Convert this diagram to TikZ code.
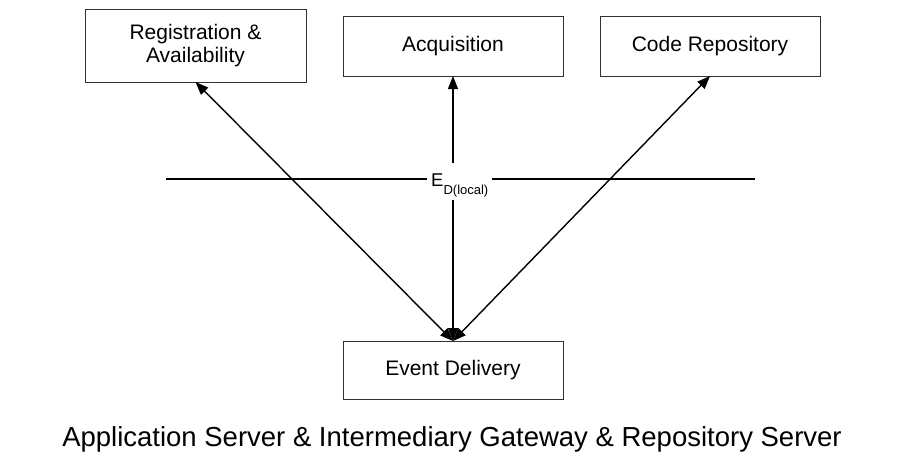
\documentclass[tikz,border=0pt]{standalone}
\usepackage{fontspec}
\setmainfont{Liberation Sans}
\usetikzlibrary{arrows.meta}
\begin{document}
\begin{tikzpicture}[x=1pt,y=-1pt,
  compbox/.style={draw=black!80, line width=0.9pt, inner sep=0pt, outer sep=0pt,
    align=center, font=\fontsize{21}{23}\selectfont},
  link/.style={line width=1.4pt,
    {Triangle[length=13pt,width=10pt]}-{Triangle[length=13pt,width=10pt]}},
  divider/.style={line width=1.5pt},
]
\useasboundingbox (0,0) rectangle (901,459);

% components
\node[compbox, minimum width=221pt, minimum height=73pt] (reg) at (195.5,45.5)
  {Registration \&\\Availability};
\node[compbox, minimum width=220pt, minimum height=60pt] (acq) at (453,46)
  {Acquisition};
\node[compbox, minimum width=220pt, minimum height=60pt] (code) at (710,46)
  {Code Repository};
\node[compbox, minimum width=220pt, minimum height=58pt] (ed) at (453,370)
  {Event Delivery};

% two-way links from event delivery
\draw[link] (ed.north) -- (reg.south);
\draw[link] (ed.north) -- (acq.south);
\draw[link] (ed.north) -- (code.south);

% local boundary line
\coordinate (hl) at (166,179);
\coordinate (hr) at (755,179);
\draw[divider] (hl) -- (hr);

\node[fill=white, inner xsep=4pt, inner ysep=3pt, text height=20pt, text depth=11pt,
  anchor=base west, font=\fontsize{18.5}{20}\selectfont] (elabel) at (427,186)
  {E\raisebox{-8.5pt}{\fontsize{13}{14}\selectfont D(local)}};

% caption
\node[anchor=base, font=\fontsize{27.5}{32}\selectfont, inner sep=0pt] (cap) at (452,446)
  {Application Server \& Intermediary Gateway \& Repository Server};
\end{tikzpicture}
\end{document}
